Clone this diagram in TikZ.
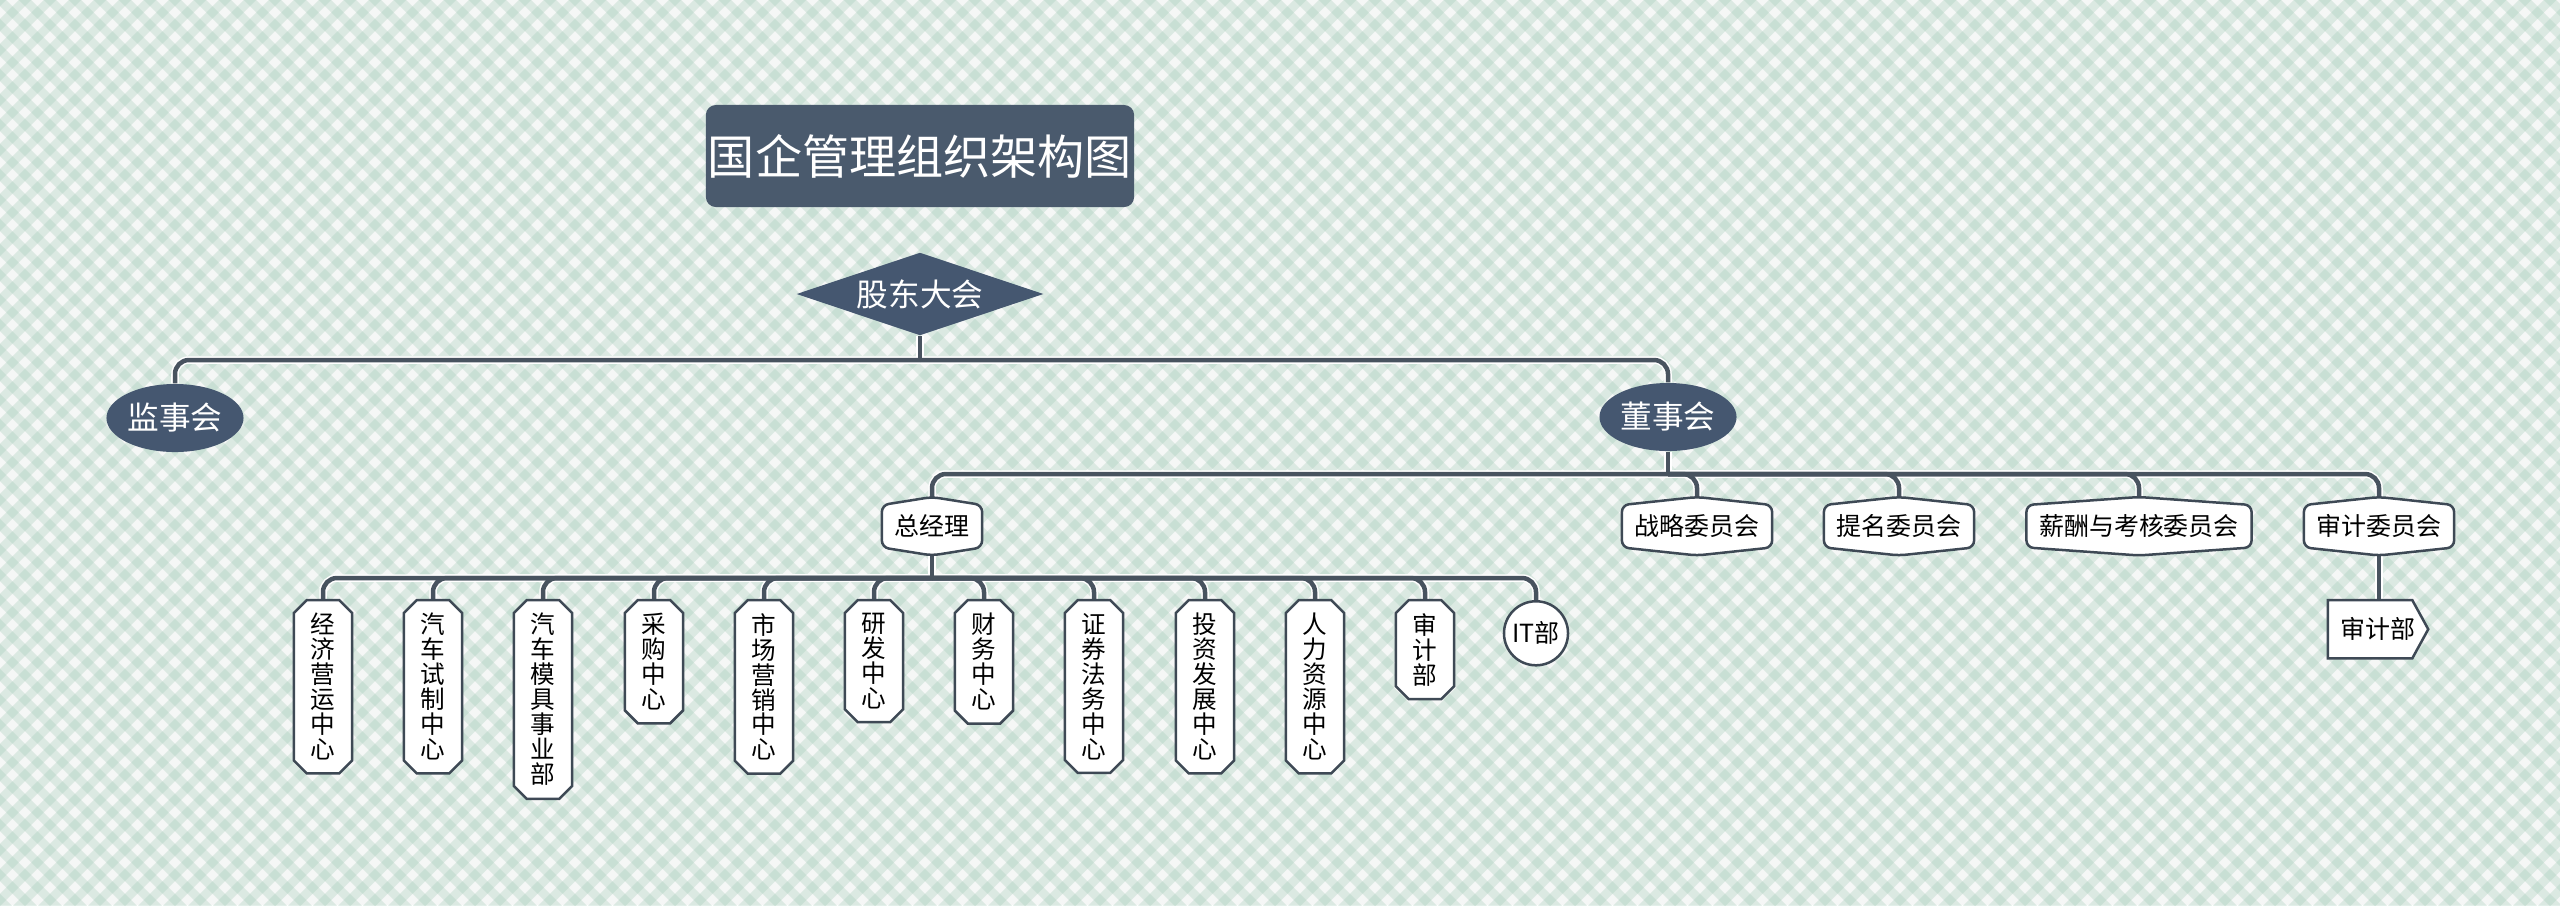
\documentclass[tikz,border=0pt]{standalone}
\usepackage{fontspec}
\newfontfamily\cjk{Noto Sans CJK SC}
\usetikzlibrary{shapes.geometric,calc}
\definecolor{bgbase}{HTML}{F5F7F6}
\definecolor{stripe}{HTML}{9FC9B5}
\definecolor{navy}{HTML}{455770}
\definecolor{titlefill}{HTML}{4A5A6D}
\definecolor{linec}{HTML}{48535F}
\definecolor{boxline}{HTML}{3E4955}
\pgfdeclarelayer{back}
\pgfdeclarelayer{bg}
\pgfsetlayers{back,bg,main}
\newcommand\hexpath[1]{%
  \path[shapeline, rounded corners=0.07cm] ($(#1.north west)+(0,8)$) -- (#1.north) -- ($(#1.north east)+(0,8)$) -- ($(#1.south east)+(0,-8)$) -- (#1.south) -- ($(#1.south west)+(0,-8)$) -- cycle;}
\newcommand\champath[1]{%
  \path[shapeline] ($(#1.north west)+(0,13)$) -- ($(#1.north west)+(13,0)$) -- ($(#1.north east)+(-13,0)$) -- ($(#1.north east)+(0,13)$) -- ($(#1.south east)+(0,-13)$) -- ($(#1.south east)+(-13,0)$) -- ($(#1.south west)+(13,0)$) -- ($(#1.south west)+(0,-13)$) -- cycle;}
\newcommand\allconns[1]{%
  \draw[#1] (gd.south) -- (b1);
  \draw[#1] (b1) -| (js.north);
  \draw[#1] (b1) -| (ds.north);
  \draw[#1] (ds.south) -- (b2);
  \foreach \c in {zjl,zl,tm,xc,sjw} {\draw[#1] (b2) -| (\c.north);}
  \draw[#1] (zjl.south) -- (b3);
  \foreach \c in {c1,c2,c3,c4,c5,c6,c7,c8,c9,c10,c11,c12} {\draw[#1] (b3) -| (\c.north);}
  \draw[#1] (sjw.south) -- (sjw.south |- sjb.north);
}
\begin{document}
\begin{tikzpicture}[x=0.01cm,y=-0.01cm,
  smallfont/.style={font=\cjk\fontsize{7.1}{7.1}\selectfont},
  hexbox/.style={smallfont, inner xsep=0.12cm, inner ysep=0, minimum height=0.57cm, anchor=north},
  vbox/.style={font=\cjk\fontsize{7}{7.1}\selectfont, align=center, inner xsep=0, inner ysep=0.125cm, minimum width=0.57cm, anchor=north},
  signalbox/.style={smallfont, inner sep=0, minimum width=0.99cm, minimum height=0.57cm, anchor=north},
  shapeline/.style={draw=boxline, line width=0.025cm, fill=white},
  halo/.style={draw=white, line width=0.075cm, rounded corners=0.14cm},
  conn/.style={draw=linec, line width=0.045cm, rounded corners=0.14cm},
  darkell/.style={ellipse, fill=navy, text=white, font=\cjk\fontsize{9}{9}\selectfont, minimum width=1.37cm, minimum height=0.68cm, inner sep=0}
]
\useasboundingbox (0,0) rectangle (2560,905);
\begin{pgfonlayer}{back}
  \fill[bgbase] (0,0) rectangle (2560,905);
  \begin{scope}
    \clip (0,0) rectangle (2560,905);
    \foreach \i in {-40,...,140} {
      \draw[stripe, opacity=0.3, line width=0.088cm] (\i*25-10,-10) -- ++(925,925);
      \draw[stripe, opacity=0.3, line width=0.088cm] (\i*25+10,-10) -- ++(-925,925);
    }
  \end{scope}
\end{pgfonlayer}

\node[rectangle, rounded corners=0.1cm, fill=titlefill, text=white, minimum width=4.28cm, minimum height=1.02cm, inner sep=0, font=\cjk\fontsize{13.4}{13.4}\selectfont] (tt) at (920,156) {国企管理组织架构图};
\node[diamond, aspect=3, fill=navy, text=white, font=\cjk\fontsize{9}{9}\selectfont, minimum width=2.47cm, minimum height=0.83cm, inner sep=0] (gd) at (920,294) {股东大会};
\node[darkell] (js) at (175,418) {监事会};
\node[darkell] (ds) at (1668,417) {董事会};

\node[hexbox] (zjl) at (932,497) {总经理};
\node[hexbox] (zl) at (1697,497) {战略委员会};
\node[hexbox] (tm) at (1899,497) {提名委员会};
\node[hexbox] (xc) at (2139,497) {薪酬与考核委员会};
\node[hexbox] (sjw) at (2379,497) {审计委员会};
\node[signalbox] (sjb) at (2378,600) {审计部};

\node[vbox] (c1) at (323,600) {经\\济\\营\\运\\中\\心};
\node[vbox] (c2) at (433,600) {汽\\车\\试\\制\\中\\心};
\node[vbox] (c3) at (543,600) {汽\\车\\模\\具\\事\\业\\部};
\node[vbox] (c4) at (654,600) {采\\购\\中\\心};
\node[vbox] (c5) at (764,600) {市\\场\\营\\销\\中\\心};
\node[vbox] (c6) at (874,600) {研\\发\\中\\心};
\node[vbox] (c7) at (984,600) {财\\务\\中\\心};
\node[vbox] (c8) at (1094,600) {证\\券\\法\\务\\中\\心};
\node[vbox] (c9) at (1205,600) {投\\资\\发\\展\\中\\心};
\node[vbox] (c10) at (1315,600) {人\\力\\资\\源\\中\\心};
\node[vbox] (c11) at (1425,600) {审\\计\\部};
\node[circle, draw=boxline, line width=0.025cm, fill=white, minimum size=0.64cm, inner sep=0, smallfont, anchor=north] (c12) at (1536,600) {IT部};

\coordinate (b1) at (920,360);
\coordinate (b2) at (1668,474);
\coordinate (b3) at (932,578);

\begin{pgfonlayer}{bg}
  \allconns{halo}
  \allconns{conn}
  \foreach \c in {zjl,zl,tm,xc,sjw} {\hexpath{\c}}
  \foreach \c in {c1,c2,c3,c4,c5,c6,c7,c8,c9,c10,c11} {\champath{\c}}
  \path[shapeline] (sjb.north west) -- ($(sjb.north east)+(-16,0)$) -- (sjb.east) -- ($(sjb.south east)+(-16,0)$) -- (sjb.south west) -- cycle;
\end{pgfonlayer}
\end{tikzpicture}
\end{document}
